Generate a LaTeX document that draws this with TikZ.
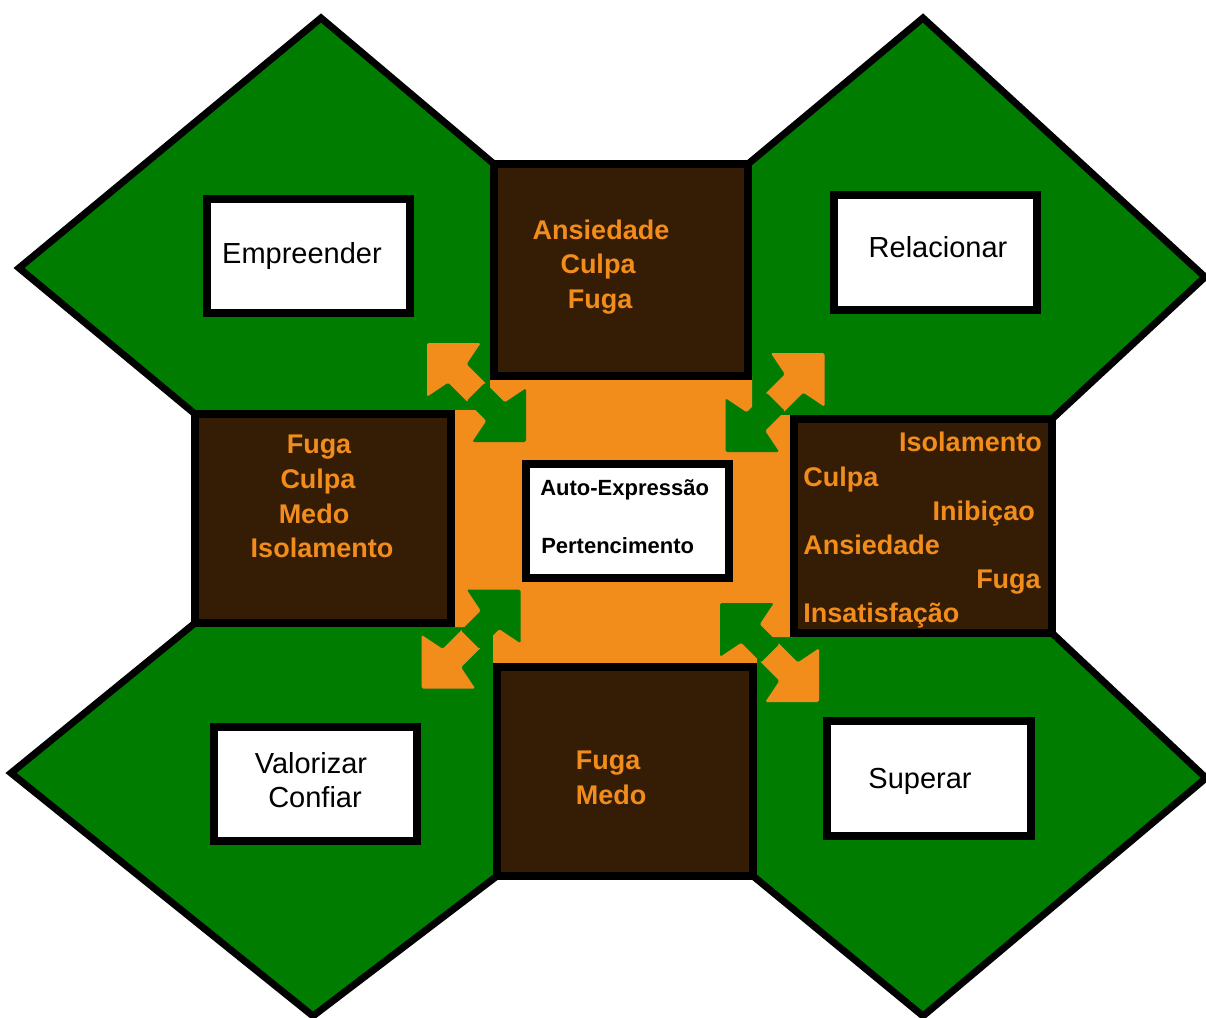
\documentclass[tikz,border=0pt]{standalone}
\usepackage{fontspec}
\setmainfont{Liberation Sans}
\definecolor{gr}{RGB}{0,125,0}
\definecolor{orng}{RGB}{242,141,28}
\definecolor{brn}{RGB}{53,28,4}
\newcommand\halfarr[4]{%
  \begin{scope}[shift={(#1)}, x={({(#2)*0.5303pt},{-(#3)*0.5303pt})}, y={({-(#3)*0.5303pt},{-(#2)*0.5303pt})}]
    \fill[#4, rounded corners=1.2pt] (0,0) -- (38,38) -- (43,13) -- (71,13) -- (71,-13) -- (43,-13) -- (38,-38) -- cycle;
  \end{scope}}
\begin{document}
\begin{tikzpicture}[x=0.75pt,y=-0.75pt,
  greenshape/.style={fill=gr, draw=black, line width=5.25pt, line join=miter},
  brownbox/.style={fill=brn, draw=black, line width=6pt, inner sep=0pt},
  whitebox/.style={fill=white, draw=black, line width=6pt, inner sep=0pt},
  otext/.style={text=orng, font=\bfseries\fontsize{20.25pt}{24pt}\selectfont, inner sep=0pt},
  btext/.style={text=black, font=\fontsize{21.75pt}{26pt}\selectfont, inner sep=0pt},
  ctext/.style={text=black, font=\bfseries\fontsize{16.5pt}{20pt}\selectfont, inner sep=0pt}]
\useasboundingbox (0,0) rectangle (1206,1017);
\fill[white] (0,0) rectangle (1206,1017);
% green shapes
\filldraw[greenshape] (494,164) -- (494,414) -- (195,414) -- (19,268) -- (321,18) -- cycle;
\filldraw[greenshape] (748,164) -- (923,18) -- (1205,277) -- (1052,419) -- (748,419) -- cycle;
\filldraw[greenshape] (195,623) -- (11,773) -- (313,1016) -- (497,876) -- (497,623) -- cycle;
\filldraw[greenshape] (1052,633) -- (1206,778) -- (923,1016) -- (753,876) -- (753,633) -- cycle;
% orange centre (cross shape between the brown boxes)
\fill[orng] (490,376) -- (752,376) -- (752,415) -- (794,415) -- (794,637) -- (757,637)
  -- (757,666) -- (493,666) -- (493,627) -- (453,627) -- (453,410) -- (490,410) -- cycle;
% brown boxes
\node[brownbox, minimum width=190.5pt, minimum height=159pt] (btop) at (621,270) {};
\node[brownbox, minimum width=192pt, minimum height=156.75pt] (bleft) at (323,518.5) {};
\node[brownbox, minimum width=193.5pt, minimum height=160.5pt] (bright) at (923,526) {};
\node[brownbox, minimum width=192pt, minimum height=156.75pt] (bbot) at (625,771.5) {};
% white boxes
\node[whitebox, minimum width=152.25pt, minimum height=85.5pt] (wemp) at (308.5,256) {};
\node[whitebox, minimum width=152.25pt, minimum height=86.25pt] (wrel) at (935.5,252.5) {};
\node[whitebox, minimum width=152.25pt, minimum height=85.5pt] (wval) at (315.5,784) {};
\node[whitebox, minimum width=153pt, minimum height=86.25pt] (wsup) at (929,778.5) {};
\node[whitebox, minimum width=152.25pt, minimum height=85.5pt] (wcen) at (627.5,521) {};
% black texts
\node[btext, anchor=base] (t1) at (302,263) {Empreender};
\node[btext, anchor=base] (t2) at (938,257) {Relacionar};
\node[btext, anchor=base] (t3) at (311,773) {Valorizar};
\node[btext, anchor=base] (t4) at (315,807) {Confiar};
\node[btext, anchor=base] (t5) at (920,788) {Superar};
\node[ctext, anchor=base west] (c1) at (540,495) {Auto-Expressão};
\node[ctext, anchor=base west] (c2) at (541,553) {Pertencimento};
% orange texts: top
\node[otext, anchor=base] (o1) at (601,239) {Ansiedade};
\node[otext, anchor=base] (o2) at (598,273) {Culpa};
\node[otext, anchor=base] (o3) at (600,308) {Fuga};
% left
\node[otext, anchor=base] (o4) at (319,453) {Fuga};
\node[otext, anchor=base] (o5) at (318,488) {Culpa};
\node[otext, anchor=base] (o6) at (314,523) {Medo};
\node[otext, anchor=base] (o7) at (322,557) {Isolamento};
% right
\node[otext, anchor=base east] (o8) at (1042,451) {Isolamento};
\node[otext, anchor=base west] (o9) at (803,486) {Culpa};
\node[otext, anchor=base east] (o10) at (1035,520) {Inibiçao};
\node[otext, anchor=base west] (o11) at (803,554) {Ansiedade};
\node[otext, anchor=base east] (o12) at (1041,588) {Fuga};
\node[otext, anchor=base west] (o13) at (803,622) {Insatisfação};
% bottom
\node[otext, anchor=base] (o14) at (608,769) {Fuga};
\node[otext, anchor=base] (o15) at (611,804) {Medo};
% double arrows
\coordinate (tlO) at (427,343); \coordinate (tlG) at (526,442);
\coordinate (trO) at (824.5,353); \coordinate (trG) at (725.5,452);
\coordinate (blO) at (421.5,688.5); \coordinate (blG) at (520.5,589.5);
\coordinate (brO) at (819,702); \coordinate (brG) at (720,603);
\halfarr{tlO}{1}{1}{orng}
\halfarr{tlG}{-1}{-1}{gr}
\halfarr{trO}{-1}{1}{orng}
\halfarr{trG}{1}{-1}{gr}
\halfarr{blO}{1}{-1}{orng}
\halfarr{blG}{-1}{1}{gr}
\halfarr{brO}{-1}{-1}{orng}
\halfarr{brG}{1}{1}{gr}
\end{tikzpicture}
\end{document}
